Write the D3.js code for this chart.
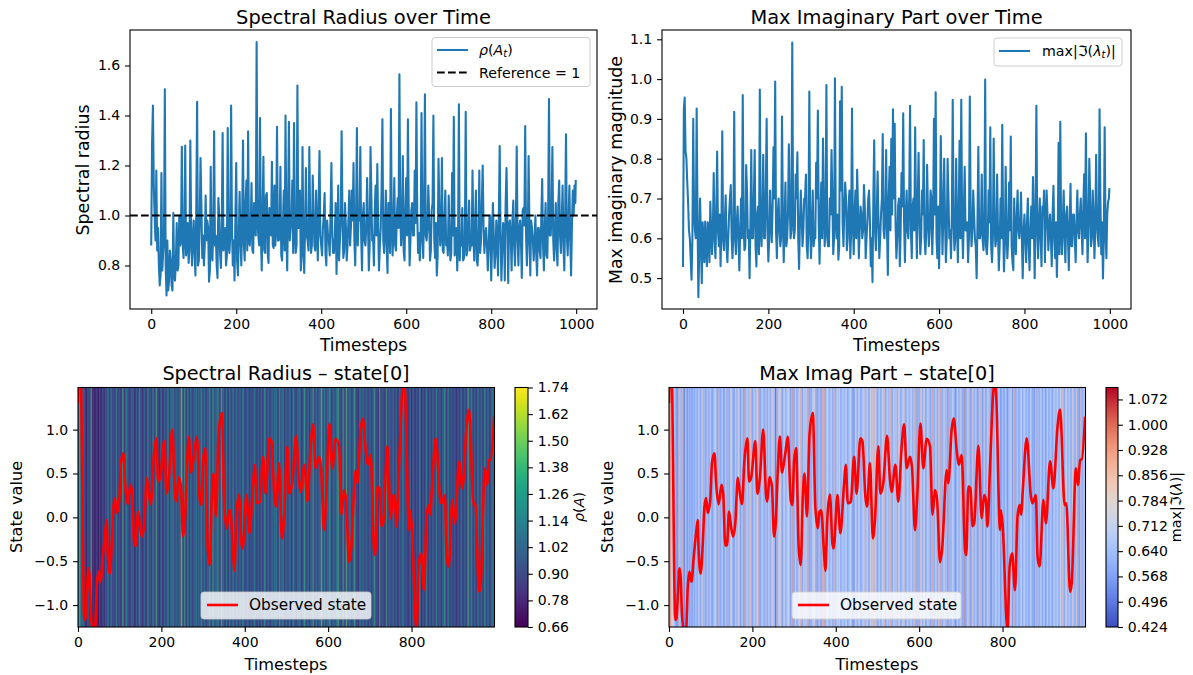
<!DOCTYPE html>
<html>
<head>
<meta charset="utf-8">
<script src="https://cdn.jsdelivr.net/npm/d3@7"></script>
<style>
body { margin: 0; background: #fff; }
text { font-family: "DejaVu Sans", sans-serif; fill: #000; }
.tick line { stroke: #000; stroke-width: 1.1; }
</style>
</head>
<body>
<div id="chart"></div>
<script>
// values, one every 4 timesteps (last one is t=999)
var rhoValues = [
	.88,1.44,1.0,1.18,.95,.72,1.17,.85,1.505,.68,.70,.86,.72,1.01,.74,.97,.80,.88,1.275,.83,1.28,.88,.81,1.30,.80,
	.98,.76,1.455,.82,1.23,.83,.80,1.08,.98,.735,1.195,.82,1.337,.92,.75,1.0,.79,1.33,.90,.80,1.35,.85,1.44,.80,.74,
	1.21,.76,1.095,.80,1.30,.82,1.14,1.337,.88,1.13,.85,.95,1.694,.92,1.39,.78,1.235,.85,1.09,.81,1.02,1.215,.87,.88,1.355,
	.90,1.195,.82,1.1,1.40,.78,1.375,.95,1.14,1.37,.85,1.52,.95,.78,1.274,.77,1.19,.90,1.274,.85,1.16,.88,1.10,.82,1.258,
	.88,.95,1.09,.80,.92,.84,1.21,.85,.92,.766,1.12,.90,1.337,.83,1.05,.82,.98,.88,1.1,1.21,.80,1.35,1.0,1.274,.78,
	1.05,.88,1.15,.78,1.274,.90,.80,1.12,1.206,.78,.95,1.385,.85,1.1,.77,1.05,1.426,.84,1.15,.86,1.07,1.565,.88,1.238,.82,
	1.15,1.385,.80,1.02,.92,1.18,1.453,.85,.82,1.41,.83,1.485,.90,1.12,.82,1.02,1.40,.83,.76,1.227,.88,1.23,.85,1.10,.90,
	1.08,.82,1.17,1.395,.88,.78,1.445,.92,1.03,.83,1.415,.86,1.06,.88,1.18,.82,1.10,.80,1.18,.90,1.20,.85,.95,.78,1.0,
	.74,1.05,.79,.98,.76,1.278,.74,.97,.74,1.19,.73,.98,.78,1.06,.80,1.276,.80,.98,.75,1.03,1.358,.80,1.238,.76,.95,
	.82,1.0,.76,.95,.83,1.146,.78,1.05,.83,1.466,.92,1.274,.82,1.05,.80,1.14,.85,1.12,.78,1.325,.84,1.12,.76,1.1,1.12,1.142
];
// the dense band between those, t = 2, 6, 10, ...
var rhoBetween = [
	1.29,1.12,.9,.86,.80,.76,.78,.9,.8,.9,.74,.82,.70,.76,.82,.78,1.0,.9,.88,.92,.84,.97,.86,.95,.9,
	.85,1.03,.80,.96,1.05,.92,.88,.90,.95,.78,.84,.95,.88,.80,1.07,.85,.95,.86,.95,.84,.88,.92,.95,.90,.98,
	.82,.92,.90,1.0,.88,1.05,.86,.90,.95,.86,1.05,.92,.97,.88,.93,1.0,.86,1.08,.85,1.03,.92,.88,1.12,.96,.90,
	.92,.84,.98,.86,.92,1.05,.90,.97,.85,.92,.88,.95,1.1,.84,.90,.95,.92,.86,.98,.88,1.02,.86,.95,1.05,.92,
	.84,1.0,.85,.98,.9,1.02,.92,.85,1.05,.92,.82,.98,1.0,.86,.96,.88,1.1,.96,.98,.90,1.0,.88,.98,.92,1.0,
	.9,.95,.98,.88,1.08,.92,1.02,.92,.96,.88,1.1,.9,.95,.88,1.05,.85,.97,.95,.88,1.0,.95,1.0,.95,.86,1.02,
	.92,1.02,.90,1.05,.92,.97,1.0,.93,.90,.96,1.02,.92,.95,1.0,.86,1.05,.9,.97,.84,1.02,.92,.86,.98,.88,.84,
	.93,.85,.92,.84,.95,.9,.82,.88,.82,.9,.84,.94,.86,.88,.92,.95,.82,.9,.85,1.05,.95,.92,.88,.86,1.0,
	.88,.92,.84,.92,1.0,.92,.86,.95,1.05,.98,.96,.92,.98,.88,.96,.92,.95,.9,1.02,.96,.92,.9,.95,.98,.9,
	.9,.84,.95,.86,1.0,.88,.95,.84,1.02,.92,1.0,.9,.94,.86,1.05,.92,.98,.88,1.0,.92,.98,.9,.96,1.0,1.05
];
var imagValues = [
	.528,.954,.80,.69,.60,.496,.90,.62,.926,.452,.70,.487,.60,.642,.53,.62,.692,.56,.764,.55,.818,.58,.53,.869,.57,
	.708,.54,.66,.734,.55,.918,.56,.68,.519,.70,.96,.57,.784,.60,.50,.822,.60,.822,.529,.68,.974,.58,.81,.60,.90,
	.542,.72,.59,.829,.994,.55,.70,.58,.906,.54,.74,.60,.836,.60,1.092,.60,.76,.816,.523,.72,.58,.70,.76,.55,.969,
	.55,.72,.60,.79,.921,.536,.74,.851,.58,.985,.58,.70,.822,.56,1.002,.60,.546,.944,.981,.58,.74,.57,.68,.55,.926,
	.56,.72,.772,.55,.68,.60,.734,.55,.64,.72,.53,.49,.846,.57,.768,.55,.66,.862,.60,.822,.508,.78,.85,.924,.888,
	.55,.68,.53,.764,.914,.54,.72,.60,.933,.55,.70,.879,.55,.815,.56,.72,.847,.56,.785,.58,.72,.56,.90,.967,.55,
	.525,.857,.56,.80,.54,.80,.60,.55,.948,.57,.80,.54,.845,.948,.55,.78,.62,.54,.956,.58,.72,.60,.50,.83,.60,
	.76,.57,.999,.56,.72,.879,.54,.851,.58,.76,.52,.70,.885,.517,.78,.55,.74,.856,.54,.70,.56,.72,.60,.715,.50,
	.66,.54,.70,.52,.68,.754,.50,.933,.55,.70,.53,.66,.54,.72,.57,.66,.53,.732,.55,.503,.84,.893,.56,.72,.54,
	.68,.52,.737,.58,.66,.54,.72,.60,.70,.56,.761,.864,.54,.80,.58,.72,.55,.81,.60,.924,.56,.499,.879,.55,.692,.726
];
var imagBetween = [
	.924,.82,.74,.62,.55,.60,.66,.60,.66,.56,.60,.64,.54,.58,.64,.54,.62,.62,.60,.66,.62,.66,.62,.60,.64,
	.58,.60,.70,.60,.62,.60,.64,.60,.62,.60,.64,.58,.72,.62,.64,.60,.70,.58,.66,.56,.62,.66,.60,.72,.62,
	.60,.64,.68,.70,.62,.66,.62,.60,.66,.64,.58,.66,.70,.62,.66,.62,.70,.60,.64,.66,.62,.70,.58,.64,.62,
	.64,.58,.60,.70,.64,.66,.60,.68,.64,.60,.58,.66,.70,.60,.64,.66,.58,.72,.64,.68,.70,.60,.72,.62,.64,
	.66,.60,.68,.62,.66,.62,.68,.60,.70,.64,.60,.70,.62,.66,.64,.60,.70,.62,.66,.62,.70,.62,.66,.70,.64,
	.60,.70,.62,.68,.64,.66,.62,.70,.62,.68,.62,.66,.70,.64,.60,.66,.60,.62,.66,.62,.70,.64,.66,.60,.68,
	.64,.70,.66,.64,.60,.70,.62,.66,.64,.60,.64,.66,.60,.64,.66,.62,.64,.60,.66,.62,.66,.58,.64,.60,.62,
	.60,.62,.58,.60,.64,.58,.60,.64,.60,.62,.58,.60,.64,.58,.62,.60,.62,.58,.52,.60,.66,.62,.64,.60,.62,
	.60,.64,.58,.62,.60,.64,.66,.62,.64,.60,.68,.72,.64,.66,.62,.60,.66,.60,.64,.60,.56,.62,.64,.60,.66,
	.60,.64,.58,.66,.60,.64,.62,.66,.62,.68,.60,.66,.62,.70,.60,.66,.62,.64,.58,.70,.64,.60,.62,.66,.70
];
var stateTimes = [0,3,7,15,18,21,25,28,31,35,41,45,49,54,59,65,69,71,76,81,85,89,93,99,103,109,113,119,126,130,135,139,144,149,154,159,165,171,175,181,188,192,197,207,212,218,226,233,236,241,247,252,256,261,266,271,279,285,292,296,300,305,311,316,321,325,331,337,345,351,357,361,365,372,375,380,386,392,395,404,411,420,424,429,436,444,450,459,464,471,475,482,489,494,502,507,514,523,530,534,543,550,558,564,570,578,583,590,595,603,610,618,626,632,638,643,650,655,666,670,678,683,690,695,702,710,713,718,723,728,732,742,750,756,760,764,770,780,784,794,796,800,812,817,823,830,836,841,845,848,858,868,872,880,884,889,898,904,914,922,932,938,949,953,962,966,976,981,986,990,998];
var stateValues = [1.3,2.0,1.6,-1.17,-1.15,-.91,-.58,-.68,-1.10,-1.27,-1.27,-.79,-.62,-.735,-.47,-.18,-.03,-.37,-.64,-.30,.12,.22,.05,.20,.62,.73,.39,.15,.37,.27,-.32,-.32,.065,-.11,-.22,-.07,.45,.24,.15,.655,.90,.41,.45,.87,.27,.45,1.0,.24,.18,.46,.35,-.22,-.07,.54,.92,.51,.73,.92,.20,.14,.64,.79,-.335,-.545,.24,.50,.01,.94,1.19,.12,-.125,.065,.08,-.41,-.61,.01,.26,-.30,-.355,.255,-.18,.39,.60,.16,.18,.69,.27,.90,.865,.24,.12,.62,-.24,-.03,.81,.27,.39,.93,.43,.29,.60,.18,.81,1.06,.56,.69,.56,-.145,.20,1.07,.56,.895,.81,.03,.31,.20,-.51,-.37,.54,.39,1.0,1.13,.77,.60,.71,-.37,-.43,.35,.33,-.10,-.07,.815,-.01,.255,.20,-.105,.58,1.52,1.455,-.145,.08,-.07,-1.3,-.56,-.41,-.83,.01,.14,.03,.255,.90,.24,.16,.255,-.45,-.56,.20,-.07,.64,.33,1.04,1.23,.14,.16,-.85,-.75,.56,.37,.655,.66,1.15];

var rhoTicks = [0.8,1.0,1.2,1.4,1.6];
var imagTicks = [0.5,0.6,0.7,0.8,0.9,1.0,1.1];
var timeTicks = [0,200,400,600,800,1000];
var heatTimeTicks = [0,200,400,600,800];
var stateTicks = [-1.0,-0.5,0.0,0.5,1.0];
var rhoBarTicks = [0.66,0.78,0.90,1.02,1.14,1.26,1.38,1.50,1.62,1.74];
var imagBarTicks = [0.424,0.496,0.568,0.640,0.712,0.784,0.856,0.928,1.000,1.072];
var coolwarmStops = ["#3b4cc0","#6282ea","#8db0fe","#b5cdfa","#dddcdc","#f5c4ac","#f49a7b","#dc5d4a","#b40426"];

var width = 1193, height = 675;
var blue = "#1f77b4";
var coolwarm = d3.interpolateRgbBasis(coolwarmStops);

var svg = d3.select("#chart").append("svg")
	.attr("width", width)
	.attr("height", height)
	.style("display", "block");

// coarse + between -> one series at step 2
function zipSeries(a, b) {
	var out = [];
	a.forEach(function(v, i) {
		out.push(v);
		if (i < b.length) out.push(b[i]);
	});
	return out;
}
function timeOf(i, n) { return i == n - 1 ? 999 : i * 2; }

var rhoSeries = zipSeries(rhoValues, rhoBetween);
var imagSeries = zipSeries(imagValues, imagBetween);

function frame(l, t, r, b) {
	svg.append("rect").attr("x", l).attr("y", t).attr("width", r - l).attr("height", b - t)
		.attr("fill", "none").attr("stroke", "#000").attr("stroke-width", 1.1);
}

function label(x, y, txt, size, rotate) {
	var el = svg.append("text").attr("text-anchor", "middle").attr("font-size", size).html(txt);
	if (rotate) el.attr("transform", "translate(" + x + "," + y + ") rotate(-90)");
	else el.attr("x", x).attr("y", y);
	return el;
}

function cleanAxis(g, size) {
	g.select(".domain").remove();
	g.selectAll(".tick text").attr("font-size", size);
}

function linePanel(opts) {
	var x = d3.scaleLinear().domain(opts.xDomain).range([opts.l, opts.r]);
	var y = d3.scaleLinear().domain(opts.yDomain).range([opts.b, opts.t]);
	var n = opts.values.length;
	var line = d3.line()
		.x(function(d, i) { return x(timeOf(i, n)); })
		.y(function(d) { return y(d); });

	svg.append("path").datum(opts.values)
		.attr("d", line)
		.attr("fill", "none")
		.attr("stroke", blue)
		.attr("stroke-width", 2.08)
		.attr("stroke-linejoin", "round");

	if (opts.reference) {
		svg.append("line")
			.attr("x1", opts.l).attr("x2", opts.r)
			.attr("y1", y(opts.reference)).attr("y2", y(opts.reference))
			.attr("stroke", "#000").attr("stroke-width", 2.08)
			.attr("stroke-dasharray", "7.7,3.3");
	}

	svg.append("g").attr("transform", "translate(0," + opts.b + ")")
		.call(d3.axisBottom(x).tickValues(timeTicks).tickSize(4.9).tickPadding(4.9).tickFormat(d3.format("d")))
		.call(cleanAxis, 14);
	svg.append("g").attr("transform", "translate(" + opts.l + ",0)")
		.call(d3.axisLeft(y).tickValues(opts.ticks).tickSize(4.9).tickPadding(4.9).tickFormat(d3.format(".1f")))
		.call(cleanAxis, 14);
	frame(opts.l, opts.t, opts.r, opts.b);
}

function heatPanel(opts) {
	var x = d3.scaleLinear().domain([0, 999]).range([opts.l, opts.r]);
	var y = d3.scaleLinear().domain([-1.25, 1.48]).range([opts.b, opts.t]);
	var n = opts.values.length;
	var clipId = "clip" + opts.l;

	svg.append("clipPath").attr("id", clipId).append("rect")
		.attr("x", opts.l).attr("y", opts.t).attr("width", opts.r - opts.l).attr("height", opts.b - opts.t);

	// cells overlap and are half see-through so thin spikes blend with their neighbours
	var cells = svg.append("g").attr("clip-path", "url(#" + clipId + ")");
	cells.append("rect")
		.attr("x", opts.l).attr("y", opts.t).attr("width", opts.r - opts.l).attr("height", opts.b - opts.t)
		.attr("fill", opts.cmap(d3.mean(opts.values)));
	cells.selectAll(".cell").data(opts.values).enter().append("rect")
		.attr("class", "cell")
		.attr("x", function(d, i) { return x(timeOf(i, n)) - 0.6; })
		.attr("y", opts.t)
		.attr("width", 1.6)
		.attr("height", opts.b - opts.t)
		.attr("fill", function(d) { return opts.cmap(d); })
		.attr("opacity", 0.6);

	var line = d3.line()
		.x(function(d, i) { return x(stateTimes[i]); })
		.y(function(d) { return y(d); })
		.curve(d3.curveMonotoneX);

	svg.append("path").datum(stateValues)
		.attr("d", line)
		.attr("fill", "none")
		.attr("stroke", "#ff0000")
		.attr("stroke-width", 2.6)
		.attr("stroke-linejoin", "round")
		.attr("clip-path", "url(#" + clipId + ")");

	// legend
	var lx = opts.legendX;
	svg.append("rect").attr("x", lx).attr("y", 592).attr("width", opts.legendW).attr("height", 27)
		.attr("rx", 3).attr("fill", "#fff").attr("fill-opacity", 0.8).attr("stroke", "#ccc").attr("stroke-opacity", 0.8);
	svg.append("line").attr("x1", lx + 6).attr("x2", lx + 37).attr("y1", 605).attr("y2", 605)
		.attr("stroke", "#ff0000").attr("stroke-width", 2.6);
	svg.append("text").attr("x", lx + 48).attr("y", 610).attr("font-size", 15.3).text("Observed state");

	svg.append("g").attr("transform", "translate(0," + opts.b + ")")
		.call(d3.axisBottom(x).tickValues(heatTimeTicks).tickSize(4.9).tickPadding(4.9).tickFormat(d3.format("d")))
		.call(cleanAxis, 14);
	svg.append("g").attr("transform", "translate(" + opts.l + ",0)")
		.call(d3.axisLeft(y).tickValues(stateTicks).tickSize(4.9).tickPadding(4.9).tickFormat(function(d) { return d3.format(".1f")(d).replace("-", "\u2212"); }))
		.call(cleanAxis, 14);
	frame(opts.l, opts.t, opts.r, opts.b);

	// colorbar
	var bar = d3.scaleLinear().domain(opts.colorDomain).range([opts.b, opts.t]);
	var gradId = "grad" + opts.l;
	var grad = svg.append("linearGradient").attr("id", gradId)
		.attr("x1", 0).attr("x2", 0).attr("y1", 1).attr("y2", 0);
	d3.range(0, 1.01, 0.05).forEach(function(s) {
		grad.append("stop").attr("offset", s).attr("stop-color", opts.cmap(opts.colorDomain[0] + s * (opts.colorDomain[1] - opts.colorDomain[0])));
	});
	svg.append("rect").attr("x", opts.barL).attr("y", opts.t).attr("width", opts.barW).attr("height", opts.b - opts.t)
		.attr("fill", "url(#" + gradId + ")");
	svg.append("g").attr("transform", "translate(" + (opts.barL + opts.barW) + ",0)")
		.call(d3.axisRight(bar).tickValues(opts.barTicks).tickSize(4.9).tickPadding(4.9).tickFormat(d3.format(opts.barFormat)))
		.call(cleanAxis, 14);
	frame(opts.barL, opts.t, opts.barL + opts.barW, opts.b);
}

linePanel({ l: 130, r: 597, t: 30, b: 309, xDomain: [-49.95, 1048.95], yDomain: [0.626, 1.742], values: rhoSeries, ticks: rhoTicks, reference: 1 });
linePanel({ l: 662, r: 1131, t: 30, b: 309, xDomain: [-49.2, 1049.7], yDomain: [0.4224, 1.1234], values: imagSeries, ticks: imagTicks });

heatPanel({ l: 78, r: 494.5, t: 387.5, b: 627, values: rhoSeries, cmap: function(v) { return d3.interpolateViridis((v - 0.66) / 1.08); }, colorDomain: [0.66, 1.74],
	legendX: 201, legendW: 170, barL: 515, barW: 13, barTicks: rhoBarTicks, barFormat: ".2f" });
heatPanel({ l: 669, r: 1085.5, t: 387.5, b: 627, values: imagSeries, cmap: function(v) { return coolwarm((v - 0.424) / 0.682); }, colorDomain: [0.424, 1.106],
	legendX: 792, legendW: 169, barL: 1106, barW: 12, barTicks: imagBarTicks, barFormat: ".3f" });

// titles
label(363.5, 24, "Spectral Radius over Time", 19.44);
label(896.5, 24, "Max Imaginary Part over Time", 19.44);
label(286, 380, "Spectral Radius \u2013 state[0]", 19.2);
label(877, 380, "Max Imag Part \u2013 state[0]", 19.2);

// axis labels
label(363.5, 351, "Timesteps", 17);
label(896.5, 351, "Timesteps", 17);
label(286, 669.5, "Timesteps", 16.2);
label(877, 669.5, "Timesteps", 16.2);
label(89, 170, "Spectral radius", 17.36, true);
label(622, 170, "Max imaginary magnitude", 17.36, true);
label(22, 507, "State value", 16.2, true);
label(613, 507, "State value", 16.2, true);
label(584, 507, "<tspan font-style=\"italic\">\u03c1</tspan>(<tspan font-style=\"italic\">A</tspan>)", 14.3, true);
label(1181, 507, "max|\u2111(<tspan font-style=\"italic\">\u03bb</tspan>)|", 14.3, true);

// top legends
svg.append("rect").attr("x", 432).attr("y", 37.5).attr("width", 158).attr("height", 49).attr("rx", 3)
	.attr("fill", "#fff").attr("fill-opacity", 0.8).attr("stroke", "#ccc");
svg.append("line").attr("x1", 437).attr("x2", 468).attr("y1", 50).attr("y2", 50).attr("stroke", blue).attr("stroke-width", 2.08);
svg.append("text").attr("x", 479).attr("y", 55).attr("font-size", 14.2)
	.html("<tspan font-style=\"italic\">\u03c1</tspan>(<tspan font-style=\"italic\">A</tspan><tspan font-style=\"italic\" font-size=\"10\" dy=\"2\">t</tspan><tspan dy=\"-2\">)</tspan>");
svg.append("line").attr("x1", 437).attr("x2", 468).attr("y1", 72.5).attr("y2", 72.5).attr("stroke", "#000").attr("stroke-width", 2.08).attr("stroke-dasharray", "7.7,3.3");
svg.append("text").attr("x", 479).attr("y", 77.5).attr("font-size", 14.2).text("Reference = 1");

svg.append("rect").attr("x", 994).attr("y", 38).attr("width", 128).attr("height", 28).attr("rx", 3)
	.attr("fill", "#fff").attr("fill-opacity", 0.8).attr("stroke", "#ccc");
svg.append("line").attr("x1", 999).attr("x2", 1030).attr("y1", 51).attr("y2", 51).attr("stroke", blue).attr("stroke-width", 2.08);
svg.append("text").attr("x", 1042).attr("y", 56).attr("font-size", 14.2)
	.html("max|\u2111(<tspan font-style=\"italic\">\u03bb</tspan><tspan font-style=\"italic\" font-size=\"10\" dy=\"2\">t</tspan><tspan dy=\"-2\">)|</tspan>");
</script>
</body>
</html>
